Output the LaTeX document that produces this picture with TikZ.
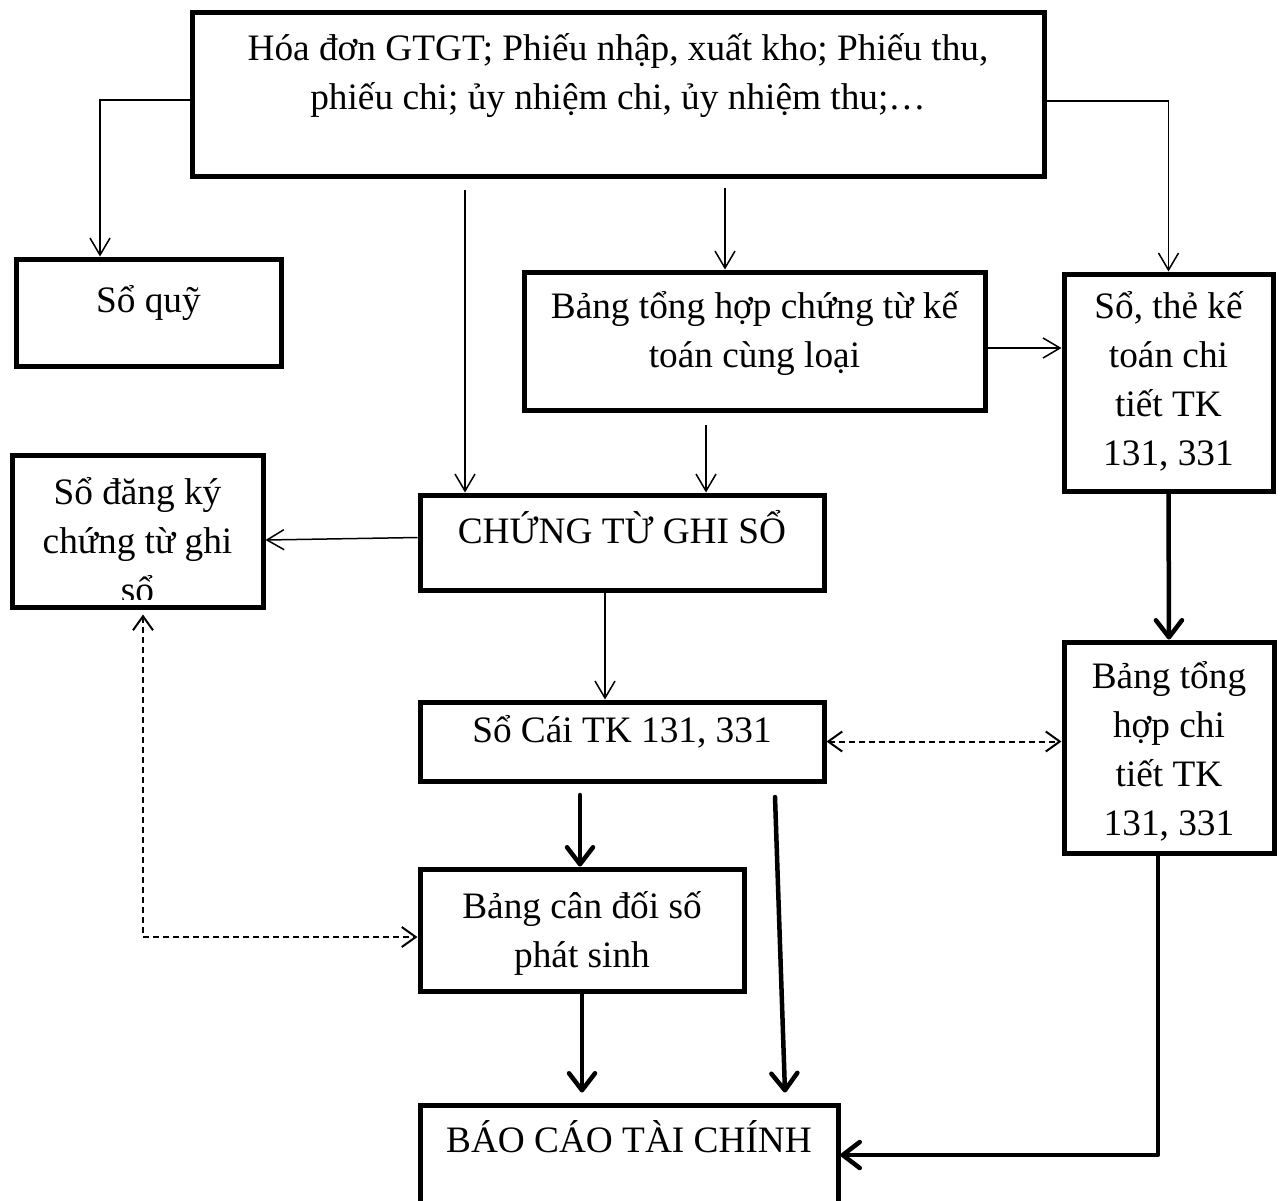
\documentclass[tikz,border=0pt]{standalone}
\usepackage{fontspec}
\setmainfont{Liberation Serif}
\usetikzlibrary{arrows.meta}
% fixed-size box text: width, height, first baseline offset, lines
\newcommand{\boxtxt}[4]{\parbox[c][#2][t]{#1}{\centering\rule{0pt}{#3}#4\par}}
\begin{document}
\begin{tikzpicture}[x=1pt,y=-1pt,
  box/.style={draw, line width=5pt, inner sep=0pt, font=\fontsize{37.3}{49}\selectfont},
  thinarr/.style={line width=1.5pt, -{Straight Barb[length=17pt,width=20pt]}},
  thickarr/.style={line width=4.5pt, line cap=round, line join=round,
    -{Straight Barb[length=17pt,width=26pt,line cap=round,line join=round]}},
  dasharr/.style={line width=2pt, dash pattern=on 6pt off 4pt,
    {Straight Barb[length=14pt,width=20pt]}-{Straight Barb[length=14pt,width=20pt]}}
]
\useasboundingbox[fill=white] (0,0) rectangle (1281,1200);

% boxes
\node[box] (top) at (618,94)
  {\boxtxt{852pt}{164pt}{48pt}{Hóa đơn GTGT; Phiếu nhập, xuất kho; Phiếu thu,\\phiếu chi; ủy nhiệm chi, ủy nhiệm thu;…}};
\node[box] (soquy) at (148.5,312.5) {\boxtxt{265pt}{107pt}{53pt}{Sổ quỹ}};
\node[box] (bth) at (754.5,341) {\boxtxt{461pt}{138pt}{46pt}{Bảng tổng hợp chứng từ kế\\toán cùng loại}};
\node[box] (sothe) at (1168.5,382.5) {\boxtxt{209pt}{217pt}{44pt}{Sổ, thẻ kế\\toán chi\\tiết TK\\131, 331}};
% the last line of this box runs past its text area and is cut off
\node[box, minimum width=251pt, minimum height=152pt,
  path picture={
    \clip ([yshift=8pt]path picture bounding box.south west)
      rectangle (path picture bounding box.north east);
    \node[anchor=north, inner sep=0pt, font=\fontsize{37.3}{49}\selectfont]
      at (path picture bounding box.north) {\boxtxt{251pt}{152pt}{47pt}{Sổ đăng ký\\chứng từ ghi\\sổ}};}]
  (dky) at (137.5,531) {};
\node[box] (ctgs) at (622,542.5) {\boxtxt{404pt}{95pt}{48pt}{CHỨNG TỪ GHI SỔ}};
\node[box] (socai) at (622,741.5) {\boxtxt{404pt}{79pt}{40pt}{Sổ Cái TK 131, 331}};
\node[box] (bthct) at (1169,747.5) {\boxtxt{210pt}{211pt}{46pt}{Bảng tổng\\hợp chi\\tiết TK\\131, 331}};
\node[box] (bcd) at (582,930) {\boxtxt{324pt}{122pt}{49pt}{Bảng cân đối số\\phát sinh}};
\node[box] (bctc) at (629,1160) {\boxtxt{418pt}{110pt}{47pt}{BÁO CÁO TÀI CHÍNH}};

% free starting points of connectors
\coordinate (s1) at (465,190);
\coordinate (s2) at (725,188);
\coordinate (s3) at (706,425);
\coordinate (s4) at (580,795);
\coordinate (s5) at (775,797);

% thin connectors
\draw[thinarr] ([yshift=-6pt]top.west) -| ([xshift=-48.5pt]soquy.north);
\draw[thinarr] ([yshift=-7pt]top.east) -| (sothe.north);
\draw[thinarr] (s1) -- (s1 |- ctgs.north);
\draw[thinarr] (s2) -- (s2 |- bth.north);
\draw[thinarr] ([yshift=-7pt]bth.east) -- ([yshift=-7pt]bth.east -| sothe.west);
\draw[thinarr] (s3) -- (s3 |- ctgs.north);
\draw[thinarr] ([yshift=5pt]ctgs.west) -- ([yshift=-9pt]dky.east);
\draw[thinarr] ([xshift=-17pt]ctgs.south) -- ([xshift=-17pt]socai.north);

% thick connectors
\draw[thickarr] (sothe.south) -- (bthct.north);
\draw[thickarr] (s4) -- (s4 |- bcd.north);
\draw[thickarr] (bcd.south) -- ([yshift=10pt]bcd.south |- bctc.north);
\draw[thickarr] (s5) -- ([xshift=156pt,yshift=10pt]bctc.north);
\draw[thickarr] ([xshift=-11pt]bthct.south) |- ([yshift=5pt]bctc.east);

% dashed two-way connectors
\draw[dasharr] (socai.east) -- (socai.east -| bthct.west);
\draw[dasharr] ([xshift=5.5pt,yshift=-5pt]dky.south) |- ([yshift=-7pt]bcd.west);
\end{tikzpicture}
\end{document}
